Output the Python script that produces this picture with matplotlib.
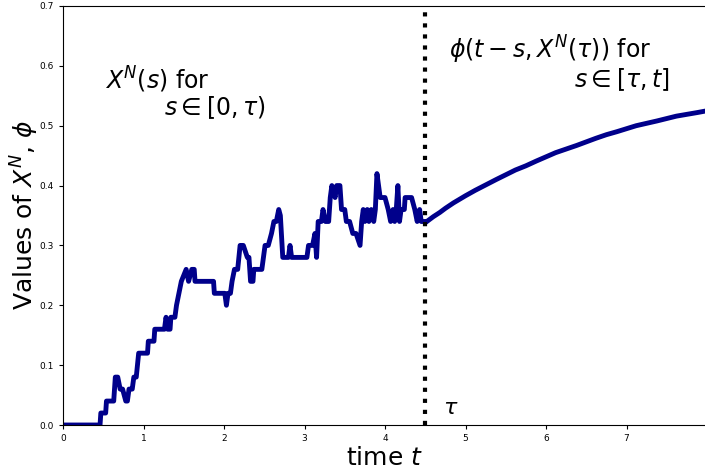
import matplotlib
matplotlib.use("Agg")
import matplotlib.pyplot as plt

# Stochastic path X^N(s) for s in [0, tau)
path_t = [0, 0.46, 0.47, 0.53, 0.54, 0.63, 0.65, 0.68, 0.71, 0.74, 0.78, 0.80, 0.82, 0.86,
          0.88, 0.91, 0.94, 1.05, 1.06, 1.13, 1.14, 1.26, 1.28, 1.30, 1.33, 1.34, 1.39, 1.41,
          1.44, 1.47, 1.53, 1.56, 1.60, 1.63, 1.64, 1.87, 1.88, 2.01, 2.03, 2.05, 2.08, 2.10,
          2.13, 2.17, 2.20, 2.24, 2.29, 2.31, 2.33, 2.36, 2.37, 2.47, 2.49, 2.51, 2.55, 2.59,
          2.62, 2.65, 2.68, 2.70, 2.73, 2.80, 2.82, 2.84, 3.03, 3.05, 3.10, 3.13, 3.15, 3.17,
          3.21, 3.23, 3.26, 3.30, 3.32, 3.34, 3.38, 3.40, 3.44, 3.46, 3.50, 3.52, 3.56, 3.60,
          3.64, 3.69, 3.71, 3.73, 3.75, 3.78, 3.80, 3.83, 3.86, 3.88, 3.90, 3.94, 4.00, 4.04,
          4.07, 4.10, 4.12, 4.14, 4.16, 4.18, 4.20, 4.24, 4.25, 4.33, 4.37, 4.40, 4.43, 4.45,
          4.50]
path_v = [0, 0, 0.02, 0.02, 0.04, 0.04, 0.08, 0.08, 0.06, 0.06, 0.04, 0.04, 0.06, 0.06,
          0.08, 0.08, 0.12, 0.12, 0.14, 0.14, 0.16, 0.16, 0.18, 0.16, 0.16, 0.18, 0.18, 0.20,
          0.22, 0.24, 0.26, 0.24, 0.26, 0.26, 0.24, 0.24, 0.22, 0.22, 0.20, 0.22, 0.22, 0.24,
          0.26, 0.26, 0.30, 0.30, 0.28, 0.28, 0.24, 0.24, 0.26, 0.26, 0.28, 0.30, 0.30, 0.32,
          0.34, 0.34, 0.36, 0.35, 0.28, 0.28, 0.30, 0.28, 0.28, 0.30, 0.30, 0.32, 0.28, 0.34,
          0.34, 0.36, 0.34, 0.34, 0.38, 0.40, 0.38, 0.40, 0.40, 0.36, 0.36, 0.34, 0.34, 0.32,
          0.32, 0.30, 0.34, 0.36, 0.34, 0.36, 0.34, 0.36, 0.34, 0.36, 0.42, 0.38, 0.38, 0.36,
          0.34, 0.36, 0.34, 0.36, 0.40, 0.34, 0.36, 0.36, 0.38, 0.38, 0.36, 0.34, 0.36, 0.34,
          0.34]

# Deterministic solution phi(t - s, X^N(tau)) for s in [tau, t]
phi_t = [4.50, 4.55, 4.60, 4.68, 4.75, 4.85, 5.00, 5.12, 5.25, 5.38, 5.50, 5.62, 5.75,
         5.88, 6.00, 6.12, 6.25, 6.38, 6.50, 6.62, 6.75, 6.88, 7.00, 7.12, 7.25, 7.38,
         7.50, 7.62, 7.75, 7.88, 8.00]
phi_v = [0.338, 0.343, 0.348, 0.355, 0.362, 0.371, 0.383, 0.392, 0.401, 0.410, 0.418,
         0.426, 0.433, 0.441, 0.448, 0.455, 0.461, 0.467, 0.473, 0.479, 0.485, 0.490,
         0.495, 0.500, 0.504, 0.508, 0.512, 0.516, 0.519, 0.522, 0.525]

tau = 4.5
xticks = [0, 1, 2, 3, 4, 5, 6, 7]
yticks = [0.0, 0.1, 0.2, 0.3, 0.4, 0.5, 0.6, 0.7]

fig = plt.figure(figsize=(7.05, 4.73), dpi=100)
ax = fig.add_axes([63 / 705, 48 / 473, 644 / 705, 419 / 473])

color = "#00008B"
ax.plot(path_t, path_v, color=color, lw=3.5, solid_joinstyle="round")
ax.plot(phi_t, phi_v, color=color, lw=3.5, solid_joinstyle="round", solid_capstyle="butt")
ax.axvline(tau, color="black", ls=":", lw=3)

ax.set_xlim(0, 8)
ax.set_ylim(0, 0.7)
ax.set_xticks(xticks)
ax.set_yticks(yticks)
ax.set_xticklabels([str(x) for x in xticks])
ax.set_yticklabels([f"{y:.1f}" for y in yticks])
ax.tick_params(labelsize=6.5, length=3, width=0.8)

ax.set_xlabel("time $t$", fontsize=18, labelpad=2)
ax.set_ylabel("Values of $X^N$, $\\phi$", fontsize=18)
ax.yaxis.set_label_coords(-0.034, 0.5)

ax.text(0.52, 0.577, "$X^N(s)$ for", fontsize=17, va="center", ha="left")
ax.text(1.26, 0.53, "$s\\in[0,\\tau)$", fontsize=17, va="center", ha="left")
ax.text(4.8, 0.626, "$\\phi(t-s, X^N(\\tau))$ for", fontsize=17, va="center", ha="left")
ax.text(7.54, 0.577, "$s\\in[\\tau,t]$", fontsize=17, va="center", ha="right")
ax.text(4.72, 0.028, "$\\tau$", fontsize=16, va="center", ha="left")

fig.savefig("out.png", dpi=100)
